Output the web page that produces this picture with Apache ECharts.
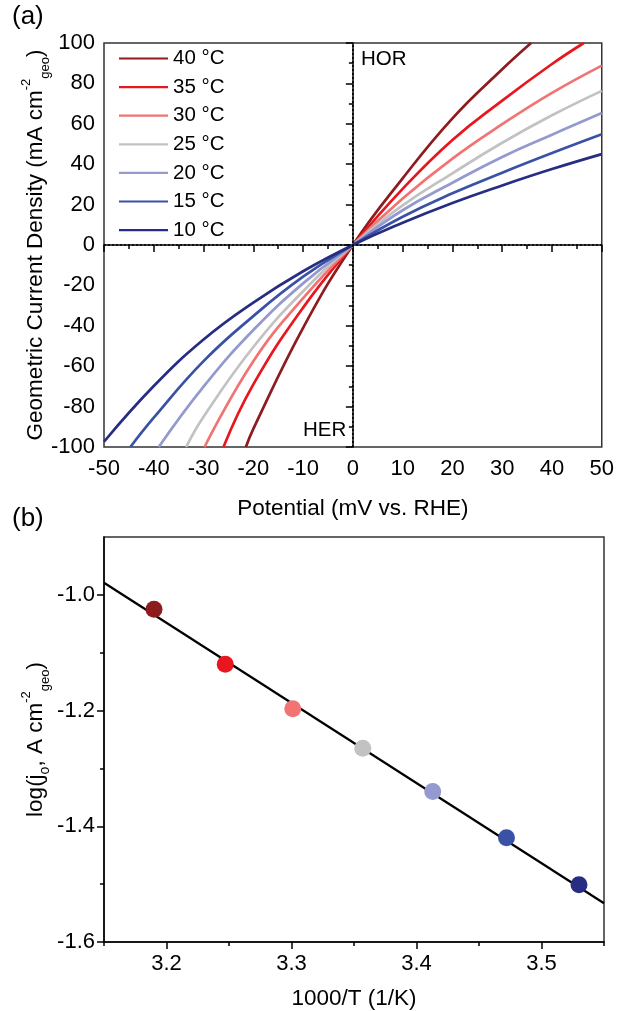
<!DOCTYPE html>
<html><head><meta charset="utf-8">
<script src="https://cdn.jsdelivr.net/npm/echarts@6/dist/echarts.min.js"></script>
<style>html,body{margin:0;padding:0;background:#fff}#c{width:617px;height:1011px}</style>
</head><body><div id="c"></div>
<script>
// ---- Panel (a): current density vs potential, [potential mV, current mA cm-2]
const tempLabels = ['40 °C','35 °C','30 °C','25 °C','20 °C','15 °C','10 °C'];
const tempColors = ['#8e1b1e','#e8171f','#f27373','#c2c2c2','#9499cf','#3a52a6','#272d82'];
const j40 = [[-21.5,-100],[-20,-91],[-10,-41],[0,0],[10,33],[20,62.7],[30,87],[35.8,100]];
const j35 = [[-26,-100],[-20,-69],[-10,-31],[0,0],[10,27.8],[20,52],[30,71.5],[40,89.6],[46.4,100]];
const j30 = [[-29.8,-100],[-20,-57.5],[-10,-26.3],[0,0],[10,23],[20,42.8],[30,59.8],[40,75.3],[50,88.8]];
const j25 = [[-33.5,-100],[-30,-85],[-20,-50.5],[-10,-22.9],[0,0],[10,19.6],[20,35.5],[30,50.6],[40,64.2],[50,76.3]];
const j20 = [[-39,-100],[-30,-70.1],[-20,-42.1],[-10,-19],[0,0],[10,17.2],[20,30.8],[30,43.6],[40,54.6],[50,65.3]];
const j15 = [[-44.7,-100],[-40,-85.5],[-30,-57.5],[-20,-35.2],[-10,-15.7],[0,0],[10,14],[20,25.6],[30,35.8],[40,45.5],[50,54.8]];
const j10 = [[-50,-97.4],[-40,-69.8],[-30,-46.8],[-20,-28.5],[-10,-13],[0,0],[10,11],[20,20.8],[30,29.5],[40,37.6],[50,45]];
const curves = [j40,j35,j30,j25,j20,j15,j10];

// ---- Panel (b): Arrhenius plot
const invT = [3.190, 3.247, 3.301, 3.357, 3.413, 3.472, 3.530];
const logJ0 = [-1.025, -1.120, -1.197, -1.265, -1.340, -1.420, -1.501];
const fitX = [3.15, 3.55];
const fitY = [-0.979, -1.533];
const bMajorX = [3.2, 3.3, 3.4, 3.5];
const bMinorX = [3.15, 3.25, 3.35, 3.45, 3.55];
const bMajorY = [-1.6, -1.4, -1.2, -1.0];
const bMinorY = [-1.5, -1.3, -1.1];

const FONT = 'Liberation Sans, Arial, Helvetica, sans-serif';
const TICK = 22, TITLE = 22.5;
const chart = echarts.init(document.getElementById('c'), null, {renderer: 'canvas'});

const richSS = {
  sup: {fontSize: 13, verticalAlign: 'top', lineHeight: 32, fontFamily: FONT, color: '#000'},
  sub: {fontSize: 13, verticalAlign: 'bottom', lineHeight: 32, fontFamily: FONT, color: '#000'},
  sub2: {fontSize: 14, verticalAlign: 'bottom', lineHeight: 28, fontFamily: FONT, color: '#000'}
};
const axisLineS = {show: true, lineStyle: {color: '#000', width: 1.5}};

const lineSeries = curves.map((d, i) => ({
  type: 'line', name: tempLabels[i], xAxisIndex: 0, yAxisIndex: 0,
  data: d, showSymbol: false, symbol: 'none', smooth: 0.45,
  lineStyle: {color: tempColors[i], width: 2.7}, itemStyle: {color: tempColors[i]},
  z: 3, clip: true,
  markLine: i === 0 ? {
    silent: true, symbol: 'none', label: {show: false},
    lineStyle: {color: '#000', type: [2, 2], width: 1.6},
    data: [{xAxis: 0}, {yAxis: 0}]
  } : undefined
}));

chart.setOption({
  animation: false,
  textStyle: {fontFamily: FONT},
  grid: [
    {left: 104, top: 43, width: 500, height: 404, show: true, borderColor: '#333', borderWidth: 1.5, backgroundColor: 'transparent'},
    {left: 104, top: 537, width: 500, height: 405, show: true, borderColor: '#333', borderWidth: 1.5, backgroundColor: 'transparent'}
  ],
  legend: {
    data: tempLabels, orient: 'vertical', left: 114, top: 43, itemWidth: 49, itemHeight: 20, itemGap: 7.6,
    icon: 'path://M0,9 L49,9 L49,11.2 L0,11.2 Z',
    textStyle: {fontSize: 20.5, color: '#000', fontFamily: FONT, lineHeight: 20},
    selectedMode: false
  },
  xAxis: [
    {type: 'value', gridIndex: 0, position: 'bottom', min: -50, max: 50, interval: 10,
     name: 'Potential (mV vs. RHE)', nameLocation: 'middle', nameGap: 50,
     nameTextStyle: {fontSize: TITLE, color: '#000', fontFamily: FONT},
     axisLine: axisLineS, axisTick: {show: true, inside: false, length: 7, lineStyle: {color: '#000', width: 1.5}},
     minorTick: {show: true, splitNumber: 2, length: 4, lineStyle: {color: '#000', width: 1.5}},
     axisLabel: {fontSize: TICK, color: '#000', margin: 11, fontFamily: FONT},
     splitLine: {show: false}},
    {type: 'value', gridIndex: 1, position: 'bottom', min: 3.15, max: 3.55,
     name: '1000/T (1/K)', nameLocation: 'middle', nameGap: 45,
     nameTextStyle: {fontSize: TITLE, color: '#000', fontFamily: FONT},
     axisLine: axisLineS,
     axisTick: {show: true, length: 7, customValues: bMajorX, lineStyle: {color: '#000', width: 1.5}},
     axisLabel: {fontSize: TICK, color: '#000', margin: 11, customValues: bMajorX, formatter: v => v.toFixed(1), fontFamily: FONT},
     splitLine: {show: false}},
    {type: 'value', gridIndex: 1, position: 'bottom', offset: 0, min: 3.15, max: 3.55,
     axisLine: {show: false}, axisLabel: {show: false},
     axisTick: {show: true, length: 4, customValues: bMinorX, lineStyle: {color: '#000', width: 1.5}},
     splitLine: {show: false}}
  ],
  yAxis: [
    {type: 'value', gridIndex: 0, position: 'left', min: -100, max: 100, interval: 20,
     name: 'Geometric Current Density (mA cm{sup|-2}{sub|geo})', nameLocation: 'middle', nameGap: 52, nameRotate: 90,
     nameMoveOverlap: false,
     nameTextStyle: {fontSize: TITLE, color: '#000', fontFamily: FONT, lineHeight: 32, rich: richSS},
     axisLine: axisLineS, axisTick: {show: true, length: 7, lineStyle: {color: '#000', width: 1.5}},
     minorTick: {show: true, splitNumber: 2, length: 4, lineStyle: {color: '#000', width: 1.5}},
     axisLabel: {fontSize: TICK, color: '#000', margin: 9, fontFamily: FONT},
     splitLine: {show: false}},
    {type: 'value', gridIndex: 1, position: 'left', min: -1.6, max: -0.9,
     name: 'log(j{sub2|o}, A cm{sup|-2}{sub|geo})', nameLocation: 'middle', nameGap: 52, nameRotate: 90,
     nameMoveOverlap: false,
     nameTextStyle: {fontSize: TITLE, color: '#000', fontFamily: FONT, lineHeight: 32, rich: richSS},
     axisLine: axisLineS,
     axisTick: {show: true, length: 7, customValues: bMajorY, lineStyle: {color: '#000', width: 1.5}},
     axisLabel: {fontSize: TICK, color: '#000', margin: 9, customValues: bMajorY, formatter: v => v.toFixed(1), fontFamily: FONT},
     splitLine: {show: false}},
    {type: 'value', gridIndex: 1, position: 'left', offset: 0, min: -1.6, max: -0.9,
     axisLine: {show: false}, axisLabel: {show: false},
     axisTick: {show: true, length: 4, customValues: bMinorY, lineStyle: {color: '#000', width: 1.5}},
     splitLine: {show: false}}
  ],
  series: lineSeries.concat([
    {type: 'line', xAxisIndex: 1, yAxisIndex: 1, data: fitX.map((x, i) => [x, fitY[i]]),
     showSymbol: false, symbol: 'none', lineStyle: {color: '#000', width: 2.2}, z: 2, silent: true},
    {type: 'scatter', xAxisIndex: 1, yAxisIndex: 1, symbolSize: 17, z: 4,
     data: invT.map((x, i) => ({value: [x, logJ0[i]], itemStyle: {color: tempColors[i], opacity: 1}}))}
  ]),
  graphic: [
    {type: 'text', left: 12, top: 4, style: {text: '(a)', fontSize: 26, fill: '#000', fontFamily: FONT}},
    {type: 'text', left: 12, top: 506, style: {text: '(b)', fontSize: 26, fill: '#000', fontFamily: FONT}},
    {type: 'text', left: 361, top: 49, style: {text: 'HOR', fontSize: 20.5, fill: '#000', fontFamily: FONT}},
    {type: 'text', left: 303, top: 420, style: {text: 'HER', fontSize: 20.5, fill: '#000', fontFamily: FONT}}
  ]
});
</script></body></html>
